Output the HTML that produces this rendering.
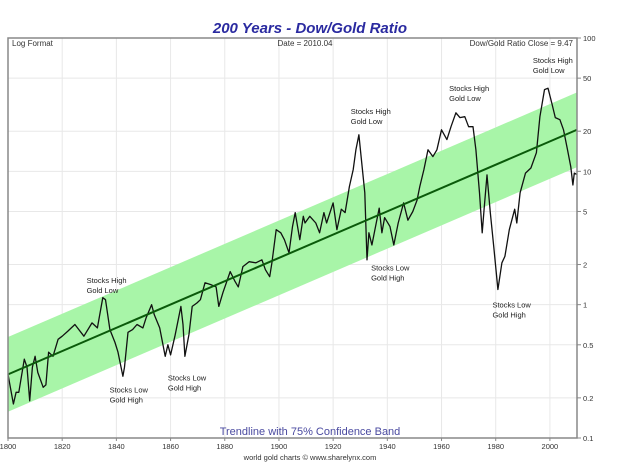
<!DOCTYPE html>
<html><head><meta charset="utf-8"><style>
body{margin:0;background:#fff;width:621px;height:465px;overflow:hidden;font-family:"Liberation Sans",sans-serif}
svg text{font-family:"Liberation Sans",sans-serif}
</style></head><body>
<svg id="chart" width="621" height="465" viewBox="0 0 621 465" xmlns="http://www.w3.org/2000/svg">
<text x="310" y="33" text-anchor="middle" font-size="15" font-weight="bold" font-style="italic" fill="#2a2aa0">200 Years - Dow/Gold Ratio</text>
<g id="grid"></g>
<g id="band"></g>
<g id="series"></g>
<rect x="8" y="38" width="569" height="400" fill="none" stroke="#888" stroke-width="1.5"/>
<g id="axes"></g>
<text x="12" y="46" font-size="8" fill="#333">Log Format</text>
<text x="305" y="46" font-size="8" fill="#333" text-anchor="middle">Date = 2010.04</text>
<text x="573" y="46" font-size="8" fill="#333" text-anchor="end">Dow/Gold Ratio Close = 9.47</text>
<text x="310" y="435" font-size="11" fill="#4a4aa0" text-anchor="middle">Trendline with 75% Confidence Band</text>
<text x="310" y="460" font-size="7.5" fill="#333" text-anchor="middle">world gold charts © www.sharelynx.com</text>
<g id="notes"></g>
</svg>
<script>
const years=[1800,1802,1803,1804,1806,1807,1808,1809,1810,1811,1813,1814,1815,1816.6,1818.5,1820,1822,1824.7,1828,1831,1833,1835,1836,1837.6,1839.5,1840.6,1842.4,1843,1844.3,1846,1847.6,1849.8,1851,1853,1854,1856,1858,1859,1860,1861.6,1863.8,1864.6,1865.3,1866.8,1868,1869.7,1871,1872.7,1875,1876.8,1877.8,1879.3,1882,1883.8,1885,1886.7,1889,1891.5,1893.7,1895,1896.6,1897.4,1899,1900.7,1902,1903.7,1905,1906,1907.7,1909,1909.6,1911.4,1913.6,1915,1916.6,1917.6,1920,1921.4,1923,1924.4,1926,1927.4,1928.4,1929.5,1930.3,1931.7,1932.5,1933.2,1934.3,1935.4,1937,1938,1939,1941,1942.4,1944,1946,1947.6,1949.4,1951,1952,1953.5,1955,1956.8,1958.3,1960,1962,1963.5,1965.3,1966.8,1968.6,1970,1971.6,1972.7,1974,1975,1975.7,1976.8,1978,1979.3,1980.8,1982.3,1983.4,1985,1987,1987.8,1989,1991,1993,1995,1996.3,1998,1999.3,2000.7,2002,2003.7,2005,2006.5,2007.7,2008.5,2009,2010];
const ratios=[0.30,0.18,0.22,0.22,0.39,0.34,0.19,0.34,0.41,0.31,0.24,0.25,0.44,0.41,0.55,0.58,0.63,0.71,0.58,0.73,0.67,1.13,1.09,0.65,0.52,0.44,0.29,0.34,0.62,0.65,0.71,0.67,0.80,1.0,0.84,0.67,0.41,0.50,0.42,0.58,0.97,0.71,0.41,0.60,0.97,1.03,1.09,1.46,1.41,1.36,0.97,1.23,1.77,1.49,1.36,1.93,2.1,2.06,2.17,1.83,1.62,2.06,3.65,3.46,3.07,2.45,3.85,4.9,3.07,4.6,4.1,4.6,4.1,3.46,4.9,4.1,5.8,3.65,5.2,4.9,7.7,10.3,14.5,18.8,12.9,6.9,2.17,3.46,2.8,3.65,5.3,3.46,4.5,3.85,2.8,4.1,5.8,4.3,5.0,6.1,7.7,10.3,14.5,12.9,14.5,20.5,17.3,21.6,27.5,25.3,25.7,21.6,21.6,14.5,6.9,3.46,5.2,9.4,4.9,2.7,1.3,2.06,2.3,3.65,5.2,4.1,6.9,9.7,10.6,13.8,25.7,41,42,32.5,25.3,24.4,20.5,14.5,10.8,7.9,9.7,9.47];
const trendStart=[1800,0.30];
const trendEnd=[2010,20.5];
const bandDecades=0.28;
const yTicks=[100,50,20,10,5,2,1,0.5,0.2,0.1];
const yTickLabels=["100","50","20","10","5","2","1","0.5","0.2","0.1"];
const xTicks=[1800,1820,1840,1860,1880,1900,1920,1940,1960,1980,2000];
const notes=[["Stocks High","Gold Low",1829,1.45],["Stocks Low","Gold High",1837.5,0.22],["Stocks Low","Gold High",1859,0.27],["Stocks High","Gold Low",1926.5,27],["Stocks Low","Gold High",1934,1.8],["Stocks High","Gold Low",1962.8,40],["Stocks Low","Gold High",1978.8,0.95],["Stocks High","Gold Low",1993.7,65]];

const NS="http://www.w3.org/2000/svg";
const X=y=>8+(y-1800)*(569/210);
const Y=v=>438-(Math.log10(v)+1)*(400/3);
function mk(tag,attrs,parent){const e=document.createElementNS(NS,tag);for(const k in attrs)e.setAttribute(k,attrs[k]);parent.appendChild(e);return e;}
const grid=document.getElementById('grid'),axes=document.getElementById('axes');
xTicks.forEach((t,i)=>{
  const l=mk('line',{x1:X(t),x2:X(t),y1:38,y2:438,stroke:'#e8e8e8','stroke-width':1},grid);
  
  
  const tk=mk('line',{x1:X(t),x2:X(t),y1:438,y2:441,stroke:'#888'},axes);
  
  
  const tx=mk('text',{x:X(t),y:449,'font-size':7.5,fill:'#333','text-anchor':'middle'},axes);
  tx.textContent=t;
  
  
});
yTicks.forEach((v,i)=>{
  const l=mk('line',{x1:8,x2:577,y1:Y(v),y2:Y(v),stroke:'#e8e8e8','stroke-width':1},grid);
  
  
  const tk=mk('line',{x1:577,x2:581,y1:Y(v),y2:Y(v),stroke:'#888'},axes);
  
  
  const tx=mk('text',{x:583,y:Y(v)+3,'font-size':7.5,fill:'#333'},axes);
  tx.textContent=yTickLabels[i];
  
  
});
const band=document.getElementById('band');
const ls=Math.log10(trendStart[1]),le=Math.log10(trendEnd[1]);
const f=p=>Math.pow(10,p);
const x0=X(trendStart[0]),x1=X(trendEnd[0]);
const poly=mk('polygon',{points:[[x0,Y(f(ls+bandDecades))],[x1,Y(f(le+bandDecades))],[x1,Y(f(le-bandDecades))],[x0,Y(f(ls-bandDecades))]].map(p=>p.join(',')).join(' '),fill:'#a8f5a8'},band);


const series=document.getElementById('series');
const path=mk('path',{d:years.map((y,i)=>(i?'L':'M')+X(y).toFixed(1)+','+Y(ratios[i]).toFixed(1)).join(''),fill:'none',stroke:'#111','stroke-width':1.3,'stroke-linejoin':'round'},series);


const tl=mk('line',{x1:x0,y1:Y(trendStart[1]),x2:x1,y2:Y(trendEnd[1]),stroke:'#0a5a0a','stroke-width':2},series);


const ng=document.getElementById('notes');
notes.forEach(n=>{
  const t=mk('text',{x:X(n[2]),y:Y(n[3]),'font-size':7.5,fill:'#222'},ng);
  
  
  mk('tspan',{x:X(n[2]),dy:0},t).textContent=n[0];
  mk('tspan',{x:X(n[2]),dy:10},t).textContent=n[1];
});
</script>
</body></html>
